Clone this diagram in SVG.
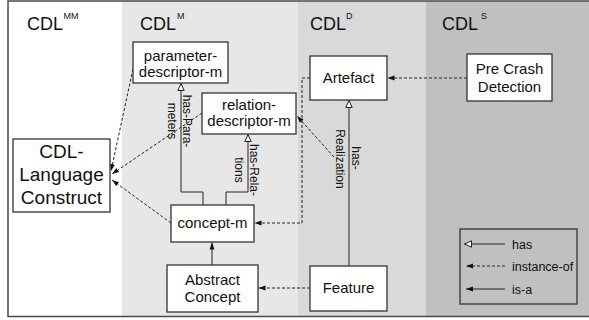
<svg xmlns="http://www.w3.org/2000/svg" width="589" height="320" viewBox="0 0 589 320">
<defs>
<style>
.box{fill:#fff;stroke:#333;stroke-width:1.3}
.t{font-family:"Liberation Sans",Arial,sans-serif;fill:#111;text-anchor:middle}
.n{font-size:15px}
.big{font-size:19px}
.h{font-family:"Liberation Sans",Arial,sans-serif;fill:#111;font-size:18px}
.sup{font-family:"Liberation Sans",Arial,sans-serif;fill:#111;font-size:9px}
.lbl{font-family:"Liberation Sans",Arial,sans-serif;fill:#111;font-size:12px;text-anchor:middle}
.leg{font-family:"Liberation Sans",Arial,sans-serif;fill:#111;font-size:12.5px}
.solid{fill:none;stroke:#222;stroke-width:1}
.dash{fill:none;stroke:#222;stroke-width:1;stroke-dasharray:3,2}
</style>
<marker id="fill" markerUnits="userSpaceOnUse" markerWidth="8" markerHeight="6" refX="7" refY="3" orient="auto">
<path d="M0,0.6 L7,3 L0,5.4 z" fill="#111"/>
</marker>
<marker id="hollow" markerUnits="userSpaceOnUse" markerWidth="9" markerHeight="8" refX="7.5" refY="4" orient="auto">
<path d="M0.5,0.8 L7.5,4 L0.5,7.2 z" fill="#fff" stroke="#222" stroke-width="1"/>
</marker>
</defs>
<rect x="0" y="0" width="589" height="320" fill="#fff"/>
<g id="columns">
<rect x="122" y="1" width="176" height="315.5" fill="#e7e7e7"/>
<rect x="298" y="1" width="128" height="315.5" fill="#d9d9d9"/>
<rect x="426" y="1" width="170" height="315.5" fill="#c0c0c0"/>
<rect x="8" y="1" width="600" height="315.5" fill="none" stroke="#4a4a4a" stroke-width="1.5"/>
</g>
<g id="headers">
<text class="h" x="27" y="30">CDL</text><text class="sup" x="63.5" y="18.5">MM</text>
<text class="h" x="140" y="30">CDL</text><text class="sup" x="177" y="18.5">M</text>
<text class="h" x="310" y="30">CDL</text><text class="sup" x="346" y="18.5">D</text>
<text class="h" x="442" y="30">CDL</text><text class="sup" x="481" y="18.5">S</text>
</g>
<g id="connectors">
<path class="solid" d="M203,205 V192 H181 V83.5" marker-end="url(#hollow)"/>
<path class="solid" d="M226,205 V192 H248 V134.5" marker-end="url(#hollow)"/>
<path class="solid" d="M349,266 V100.5" marker-end="url(#hollow)"/>
<path class="solid" d="M212,265 V242.5" marker-end="url(#fill)"/>
<path class="dash" d="M133,69 L111,171" marker-end="url(#fill)"/>
<path class="dash" d="M202,113 L112,174" marker-end="url(#fill)"/>
<path class="dash" d="M171,223 L112,180" marker-end="url(#fill)"/>
<path class="dash" d="M334,157 L297,116" marker-end="url(#fill)"/>
<path class="dash" d="M310,78 H302 V223 H254.5" marker-end="url(#fill)"/>
<path class="dash" d="M310,288 H258.5" marker-end="url(#fill)"/>
<path class="dash" d="M467,78 H387.5" marker-end="url(#fill)"/>
<text class="lbl" transform="translate(183,121) rotate(90)">has-Para-</text>
<text class="lbl" transform="translate(168,121) rotate(90)">meters</text>
<text class="lbl" transform="translate(250,170) rotate(90)">has-Rela-</text>
<text class="lbl" transform="translate(235,170) rotate(90)">tions</text>
<text class="lbl" transform="translate(352,158) rotate(90)">has-</text>
<text class="lbl" transform="translate(336,159) rotate(90)">Realization</text>
</g>
<g id="cdl-language-construct">
<rect class="box" x="13" y="139" width="97" height="73"/>
<text class="t big" x="61.5" y="158">CDL-</text>
<text class="t big" x="61.5" y="181">Language</text>
<text class="t big" x="61.5" y="204">Construct</text>
</g>
<g id="parameter-descriptor-m">
<rect class="box" x="133" y="42" width="95" height="41"/>
<text class="t n" x="180.5" y="61">parameter-</text>
<text class="t n" x="180.5" y="77">descriptor-m</text>
</g>
<g id="relation-descriptor-m">
<rect class="box" x="202" y="93" width="94" height="41"/>
<text class="t n" x="249" y="110">relation-</text>
<text class="t n" x="249" y="126">descriptor-m</text>
</g>
<g id="concept-m">
<rect class="box" x="171" y="205" width="83" height="37"/>
<text class="t n" x="212.5" y="228">concept-m</text>
</g>
<g id="abstract-concept">
<rect class="box" x="167" y="265" width="91" height="47"/>
<text class="t n" x="212.5" y="285">Abstract</text>
<text class="t n" x="212.5" y="302">Concept</text>
</g>
<g id="artefact">
<rect class="box" x="310" y="56" width="77" height="44"/>
<text class="t n" x="348.5" y="83">Artefact</text>
</g>
<g id="feature">
<rect class="box" x="310" y="266" width="77" height="45"/>
<text class="t n" x="348.5" y="293">Feature</text>
</g>
<g id="pre-crash-detection">
<rect class="box" x="467" y="54" width="85" height="47"/>
<text class="t n" x="509.5" y="74">Pre Crash</text>
<text class="t n" x="509.5" y="92">Detection</text>
</g>
<g id="legend">
<rect x="460" y="229" width="117" height="75" fill="none" stroke="#333" stroke-width="1.3"/>
<path class="solid" d="M505,244 H464.5" marker-end="url(#hollow)"/>
<path class="dash" d="M505,266 H466" marker-end="url(#fill)"/>
<path class="solid" d="M505,289 H466" marker-end="url(#fill)"/>
<text class="leg" x="512" y="248.5">has</text>
<text class="leg" x="512" y="270.5">instance-of</text>
<text class="leg" x="512" y="293.5">is-a</text>
</g>
</svg>
